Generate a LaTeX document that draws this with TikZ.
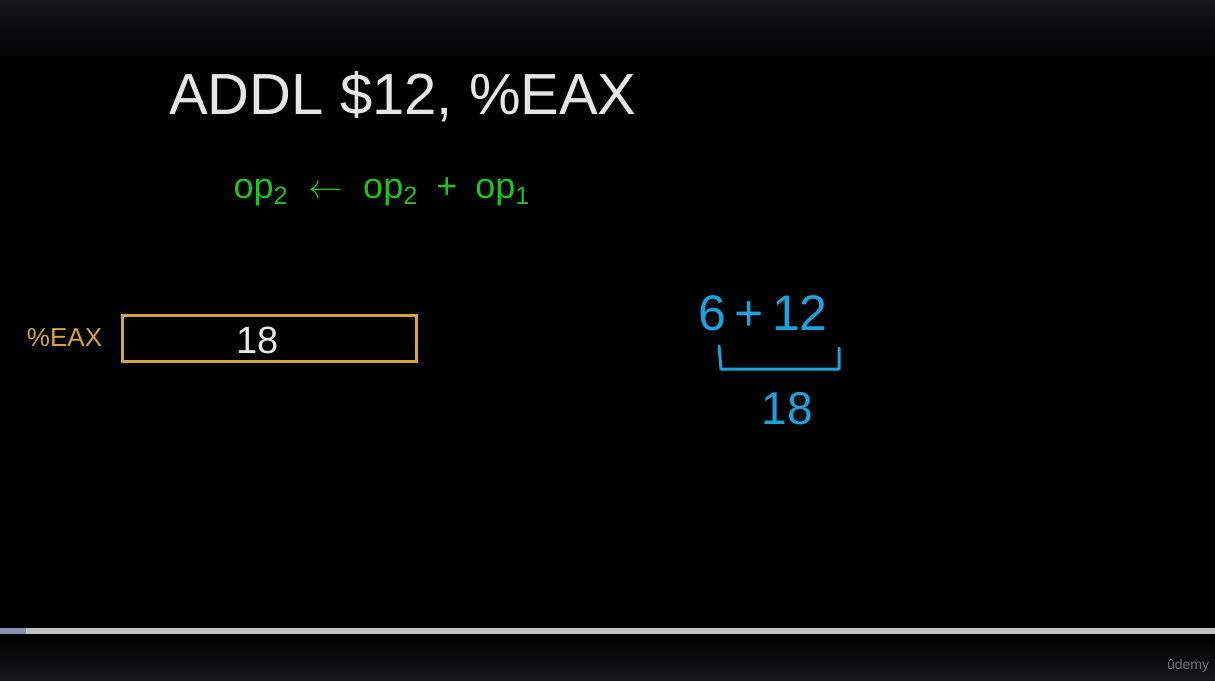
\documentclass[tikz,border=0pt]{standalone}
\usepackage{fontspec}
\setmainfont{Liberation Sans}
\usetikzlibrary{positioning}
\definecolor{chalk}{HTML}{E6E6E6}
\definecolor{greenx}{HTML}{22C022}
\definecolor{goldx}{HTML}{D6A53A}
\definecolor{bluex}{HTML}{1BA3DC}
\definecolor{barx}{HTML}{C0C2C3}
\definecolor{barl}{HTML}{8C90AC}
\definecolor{topx}{HTML}{15161B}
\definecolor{logox}{HTML}{6E7076}
\tikzset{
  ins/.style={text=chalk,inner sep=0pt,font=\fontsize{29}{29}\selectfont},
  rul/.style={text=greenx,inner sep=0pt,font=\fontsize{18}{18}\selectfont},
  reg/.style={draw=goldx,line width=1.5pt,minimum width=147pt,minimum height=23pt,inner sep=0pt},
  val/.style={text=chalk,inner sep=0pt,font=\fontsize{19}{19}\selectfont},
  lbl/.style={text=goldx,inner sep=0pt,font=\fontsize{13}{13}\selectfont},
  sm/.style={text=bluex,inner sep=0pt,font=\fontsize{25}{25}\selectfont},
  brk/.style={draw=bluex,line width=1.5pt,line cap=round,line join=round}
}
\begin{document}
\begin{tikzpicture}[x=0.5pt,y=-0.5pt]
\useasboundingbox (0,0) rectangle (1215,680);
% screen
\fill[black] (0,0) rectangle (1215,680);
\shade[top color=topx,bottom color=black] (0,0) rectangle (1215,62);
\shade[top color=black,bottom color=topx] (0,634) rectangle (1215,680);
\fill[barx] (0,628) rectangle (1215,634);
\fill[barl] (0,628) rectangle (26,634);
\node[text=logox,inner sep=0pt,font=\fontsize{7}{7}\selectfont] (logo) at (1188,666) {\^udemy};
% instruction
\node[ins] (title) at (403,97) {ADDL \$12, \%EAX};
\node[rul] (rule) at (382,192) {op\textsubscript{2}\hspace{5pt} $\leftarrow$\hspace{5pt} op\textsubscript{2}\hspace{4pt} +\hspace{4pt} op\textsubscript{1}};
% register
\node[reg] (eaxbox) at (269,338) {};
\node[val] (eaxval) at (258,340) {18};
\node[lbl,left=9pt of eaxbox] (eaxlbl) {\%EAX};
% sum
\node[sm] (sum) at (763,313) {6\,+\,12};
\node[sm,font=\fontsize{23}{23}\selectfont] (res) at (787,409) {18};
\coordinate (bl) at (719,346);
\coordinate (br) at (839,348);
\draw[brk] (bl) -- ++(2,23) -| (br);
\end{tikzpicture}
\end{document}
